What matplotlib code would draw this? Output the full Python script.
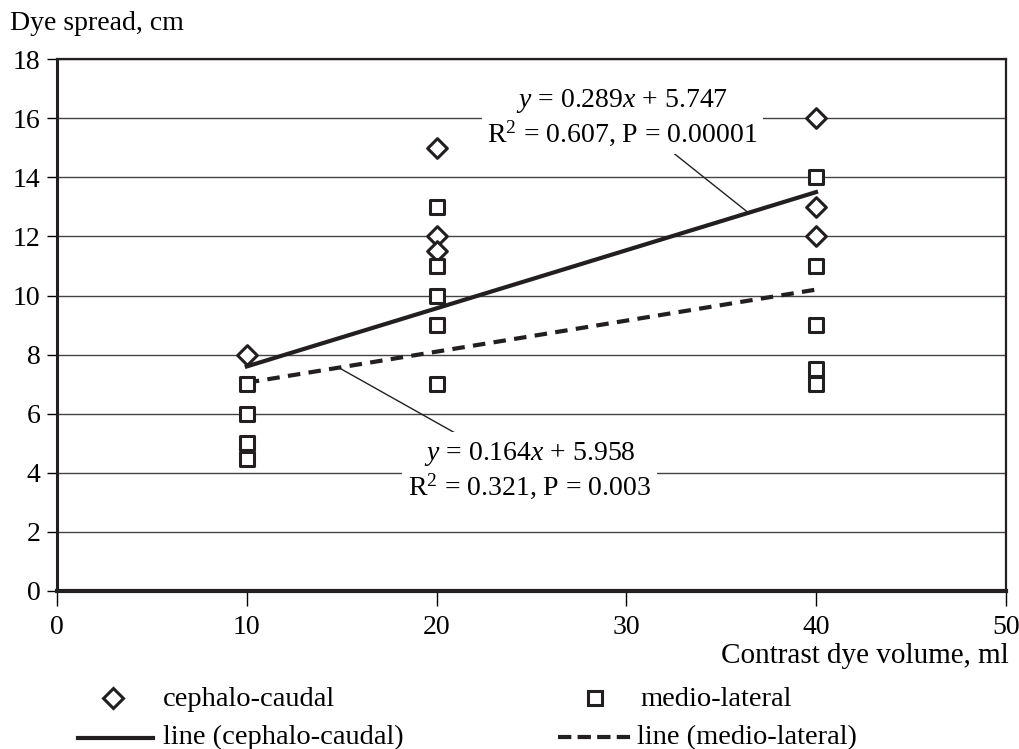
import matplotlib.pyplot as plt
from matplotlib.lines import Line2D

plt.rcParams['font.family'] = ['Liberation Serif', 'DejaVu Serif']
plt.rcParams['mathtext.fontset'] = 'custom'
plt.rcParams['mathtext.rm'] = 'Liberation Serif'
plt.rcParams['mathtext.it'] = 'Liberation Serif:italic'

# cephalo-caudal measurements
cc_x = [10, 20, 20, 20, 40, 40, 40]
cc_y = [8, 15, 12, 11.5, 16, 13, 12]

# medio-lateral measurements
ml_x = [10, 10, 10, 10, 20, 20, 20, 20, 20, 40, 40, 40, 40, 40]
ml_y = [7, 6, 5, 4.45, 13, 11, 10, 9, 7, 14, 11, 9, 7.5, 7]

# fitted lines as drawn
fit_x = [10, 40]
cc_fit = [7.6, 13.5]
ml_fit = [7.05, 10.2]

c = '#231f20'
fs = 20

fig = plt.figure(figsize=(10.19, 7.49), dpi=100)
ax = fig.add_axes([0.056, 0.211, 0.931, 0.710])

ax.set_xlim(0, 50)
ax.set_ylim(0, 18)
ax.set_yticks(range(0, 19, 2))
ax.set_xticks(range(0, 51, 10))
ax.grid(axis='y', color='#444444', linewidth=1.0)
ax.set_axisbelow(True)
for s in ax.spines.values():
    s.set_linewidth(1.6)
    s.set_color(c)
ax.spines['left'].set_linewidth(2.2)
ax.spines['bottom'].set_linewidth(3)
ax.tick_params(axis='x', labelsize=fs, length=11, width=1, direction='out', pad=6)
ax.tick_params(axis='y', labelsize=fs, length=7, width=1, direction='out', pad=5)

ax.plot(fit_x, cc_fit, color=c, linewidth=3, zorder=3)
ax.plot(fit_x, ml_fit, color=c, linewidth=3, linestyle=(0, (3, 2)), zorder=3)

ax.scatter(cc_x, cc_y, marker='D', s=100, facecolor='white', edgecolor=c,
           linewidth=2.2, zorder=4)
ax.scatter(ml_x, ml_y, marker='s', s=100, facecolor='white', edgecolor=c,
           linewidth=2.2, zorder=4)

# annotations with leader lines
ax.plot([32.3, 36.4], [14.92, 12.82], color=c, linewidth=1, zorder=3)
ax.text(29.8, 16.02, r'$y$ = 0.289$x$ + 5.747' + '\n' + r'R$^{2}$ = 0.607, P = 0.00001',
        ha='center', va='center', fontsize=fs, linespacing=1.15,
        bbox=dict(facecolor='white', edgecolor='none', pad=4), zorder=5)
ax.plot([14.9, 20.97], [7.54, 5.35], color=c, linewidth=1, zorder=3)
ax.text(24.9, 4.09, r'$y$ = 0.164$x$ + 5.958' + '\n' + r'R$^{2}$ = 0.321, P = 0.003',
        ha='center', va='center', fontsize=fs, linespacing=1.15,
        bbox=dict(facecolor='white', edgecolor='none', pad=4), zorder=5)

fig.text(0.010, 0.969, 'Dye spread, cm', fontsize=fs, ha='left', va='center')
fig.text(0.990, 0.124, 'Contrast dye volume, ml', fontsize=21, ha='right', va='center')

# legend
fig.add_artist(Line2D([0.111], [0.068], marker='D', markersize=10, markerfacecolor='white',
                      markeredgecolor=c, markeredgewidth=2.2, linestyle='none'))
fig.text(0.160, 0.066, 'cephalo-caudal', fontsize=20.5, va='center')
fig.add_artist(Line2D([0.584], [0.068], marker='s', markersize=10, markerfacecolor='white',
                      markeredgecolor=c, markeredgewidth=2.2, linestyle='none'))
fig.text(0.628, 0.066, 'medio-lateral', fontsize=20.5, va='center')
fig.add_artist(Line2D([0.077, 0.150], [0.015, 0.015], color=c, linewidth=3))
fig.text(0.160, 0.015, 'line (cephalo-caudal)', fontsize=20.5, va='center')
fig.add_artist(Line2D([0.548, 0.621], [0.016, 0.016], color=c, linewidth=3,
                      linestyle=(0, (3.2, 1.5))))
fig.text(0.625, 0.015, 'line (medio-lateral)', fontsize=20.5, va='center')

fig.savefig('out.png', dpi=100)
